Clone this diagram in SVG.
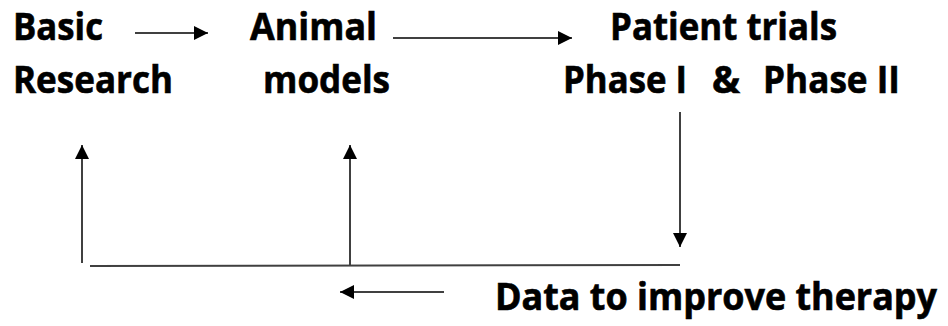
<svg xmlns="http://www.w3.org/2000/svg" width="948" height="326" viewBox="0 0 948 326">
  <defs>
    <marker id="headBig" viewBox="0 0 10 10" refX="10" refY="5" markerWidth="14" markerHeight="14" markerUnits="userSpaceOnUse" orient="auto">
      <path d="M0,0 L10,5 L0,10 z" fill="#000"/>
    </marker>
  </defs>
  <style>
    text { font-family: "Open Sans", "Liberation Sans", Arial, sans-serif; font-weight: bold; fill: #000; stroke: #000; stroke-width: 0.6; }
    .lbl { font-size: 37px; }
    .tight { font-size: 34px; }
    .ln { stroke: #404040; stroke-width: 2; fill: none; }
  </style>
  <rect width="948" height="326" fill="#fff"/>

  <g id="basic-research">
    <text class="lbl" x="13" y="40" textLength="90" lengthAdjust="spacingAndGlyphs">Basic</text>
    <text class="lbl" x="13" y="93" textLength="160" lengthAdjust="spacingAndGlyphs">Research</text>
  </g>

  <g id="animal-models">
    <text class="lbl" x="250" y="40" textLength="127" lengthAdjust="spacingAndGlyphs">Animal</text>
    <text class="lbl" x="263" y="93" textLength="127" lengthAdjust="spacingAndGlyphs">models</text>
  </g>

  <g id="patient-trials">
    <text class="lbl" x="610" y="40" textLength="227" lengthAdjust="spacingAndGlyphs">Patient trials</text>
    <text class="lbl" y="93"><tspan x="563" textLength="124" lengthAdjust="spacingAndGlyphs">Phase I</tspan><tspan x="712" textLength="28" lengthAdjust="spacingAndGlyphs">&amp;</tspan><tspan x="763" textLength="137" lengthAdjust="spacingAndGlyphs">Phase II</tspan></text>
  </g>

  <!-- bottom label: smaller size stretched vertically so it stays inside the right edge -->
  <g id="data-feedback" transform="translate(495,310) scale(1,1.09)">
    <text class="tight" x="0" y="0" textLength="442" lengthAdjust="spacingAndGlyphs">Data to improve therapy</text>
  </g>

  <g id="connectors">
    <line class="ln" x1="135" y1="33" x2="208" y2="33" marker-end="url(#headBig)"/>
    <line class="ln" x1="393" y1="38" x2="572" y2="38" marker-end="url(#headBig)"/>
    <line class="ln" x1="680" y1="112" x2="680" y2="247" marker-end="url(#headBig)"/>
    <line class="ln" x1="90" y1="266" x2="680" y2="265"/>
    <line class="ln" x1="82" y1="263" x2="82" y2="145" marker-end="url(#headBig)"/>
    <line class="ln" x1="350" y1="265" x2="350" y2="145" marker-end="url(#headBig)"/>
    <line class="ln" x1="444" y1="292" x2="340" y2="292" marker-end="url(#headBig)"/>
  </g>
</svg>
